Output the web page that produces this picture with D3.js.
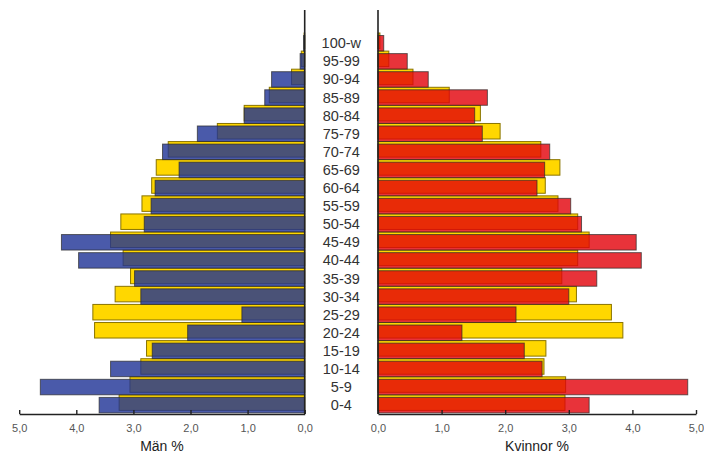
<!DOCTYPE html>
<html>
<head>
<meta charset="utf-8">
<script src="https://cdn.jsdelivr.net/npm/d3@7"></script>
<style>
  body { margin: 0; background: #fff; }
  svg { display: block; font-family: "Liberation Sans", Arial, sans-serif; }
</style>
</head>
<body>
<svg id="chart" width="704" height="455"></svg>
<script>
// age groups, bottom to top
const ages = ["0-4", "5-9", "10-14", "15-19", "20-24", "25-29", "30-34", "35-39", "40-44",
  "45-49", "50-54", "55-59", "60-64", "65-69", "70-74", "75-79", "80-84", "85-89",
  "90-94", "95-99", "100-w"];

// men %, local population (blue) and comparison (yellow)
const menLocal = [3.60, 4.63, 3.40, 2.67, 2.05, 1.10, 2.87, 2.98, 3.96, 4.26, 2.81, 2.69,
  2.62, 2.20, 2.49, 1.88, 1.06, 0.70, 0.58, 0.08, 0.02];
const menComp = [3.25, 3.06, 2.87, 2.77, 3.68, 3.71, 3.32, 3.05, 3.18, 3.40, 3.22, 2.85,
  2.68, 2.60, 2.39, 1.53, 1.06, 0.62, 0.23, 0.06, 0.01];

// women %, local population (red) and comparison (yellow)
const womenLocal = [3.32, 4.87, 2.58, 2.30, 1.32, 2.17, 3.00, 3.44, 4.14, 4.06, 3.20, 3.03,
  2.50, 2.62, 2.70, 1.64, 1.52, 1.72, 0.79, 0.46, 0.09];
const womenComp = [2.94, 2.95, 2.61, 2.64, 3.85, 3.67, 3.12, 2.89, 3.14, 3.32, 3.14, 2.83,
  2.63, 2.86, 2.56, 1.92, 1.61, 1.12, 0.55, 0.17, 0.03];

const ticks = [0, 1, 2, 3, 4, 5];

const svg = d3.select("#chart");
const axisY = 414;

const y = d3.scaleBand()
  .domain(ages.slice().reverse())
  .range([34, axisY]);

const xLeft = d3.scaleLinear().domain([0, 5]).range([304.7, 19.2]);
const xRight = d3.scaleLinear().domain([0, 5]).range([378, 696]);

const barH = 15.5;
const fmt = (d) => d3.format(".1f")(d).replace(".", ",");

function side(x, local, comp, color) {
  const g = svg.append("g");
  const rows = ages.map((a, i) => ({ age: a, local: local[i], comp: comp[i] }));

  // comparison bars, sitting a little higher
  g.selectAll("rect.comp")
    .data(rows)
    .enter()
    .append("rect")
    .attr("class", "comp")
    .attr("x", (d) => Math.min(x(0), x(d.comp)))
    .attr("width", (d) => Math.abs(x(d.comp) - x(0)))
    .attr("y", (d) => y(d.age) - 1)
    .attr("height", barH)
    .style("fill", "#ffd700")
    .style("stroke", "#8a7400")
    .style("stroke-width", 1);

  // local bars on top, slightly see-through
  g.selectAll("rect.local")
    .data(rows)
    .enter()
    .append("rect")
    .attr("class", "local")
    .attr("x", (d) => Math.min(x(0), x(d.local)))
    .attr("width", (d) => Math.abs(x(d.local) - x(0)))
    .attr("y", (d) => y(d.age) + 1.5)
    .attr("height", barH)
    .style("fill", color)
    .style("fill-opacity", 0.8)
    .style("stroke", "#2a2a2a")
    .style("stroke-opacity", 0.7)
    .style("stroke-width", 1);

  // x axis, ticks pointing up
  const ax = svg.append("g")
    .attr("transform", `translate(0,${axisY})`)
    .call(d3.axisBottom(x).tickValues(ticks).tickFormat(fmt)
      .tickSizeInner(-4).tickSizeOuter(0).tickPadding(10));
  ax.select(".domain").style("stroke", "#222").style("stroke-width", 1.6);
  ax.selectAll(".tick line").style("stroke", "#222").style("stroke-width", 1.4);
  ax.selectAll(".tick text")
    .style("font-size", "11px")
    .style("fill", "#555")
    .style("font-family", "'Liberation Sans', Arial, sans-serif");

  // vertical zero line
  svg.append("line")
    .attr("x1", x(0)).attr("x2", x(0))
    .attr("y1", 10).attr("y2", axisY)
    .style("stroke", "#222")
    .style("stroke-width", 1.6);
}

side(xLeft, menLocal, menComp, "#1d3195");
side(xRight, womenLocal, womenComp, "#e20009");

// age labels between the two halves
svg.append("g")
  .selectAll("text")
  .data(ages)
  .enter()
  .append("text")
  .attr("x", (xLeft(0) + xRight(0)) / 2)
  .attr("y", (d) => y(d) + y.bandwidth() / 2)
  .attr("dy", "0.36em")
  .text((d) => d)
  .style("text-anchor", "middle")
  .style("font-size", "14.5px")
  .style("fill", "#333");

svg.append("text")
  .attr("x", (xLeft(0) + xLeft(5)) / 2)
  .attr("y", 451)
  .text("Män %")
  .style("text-anchor", "middle")
  .style("font-size", "14px")
  .style("fill", "#222");

svg.append("text")
  .attr("x", (xRight(0) + xRight(5)) / 2)
  .attr("y", 451)
  .text("Kvinnor %")
  .style("text-anchor", "middle")
  .style("font-size", "14px")
  .style("fill", "#222");
</script>
</body>
</html>
